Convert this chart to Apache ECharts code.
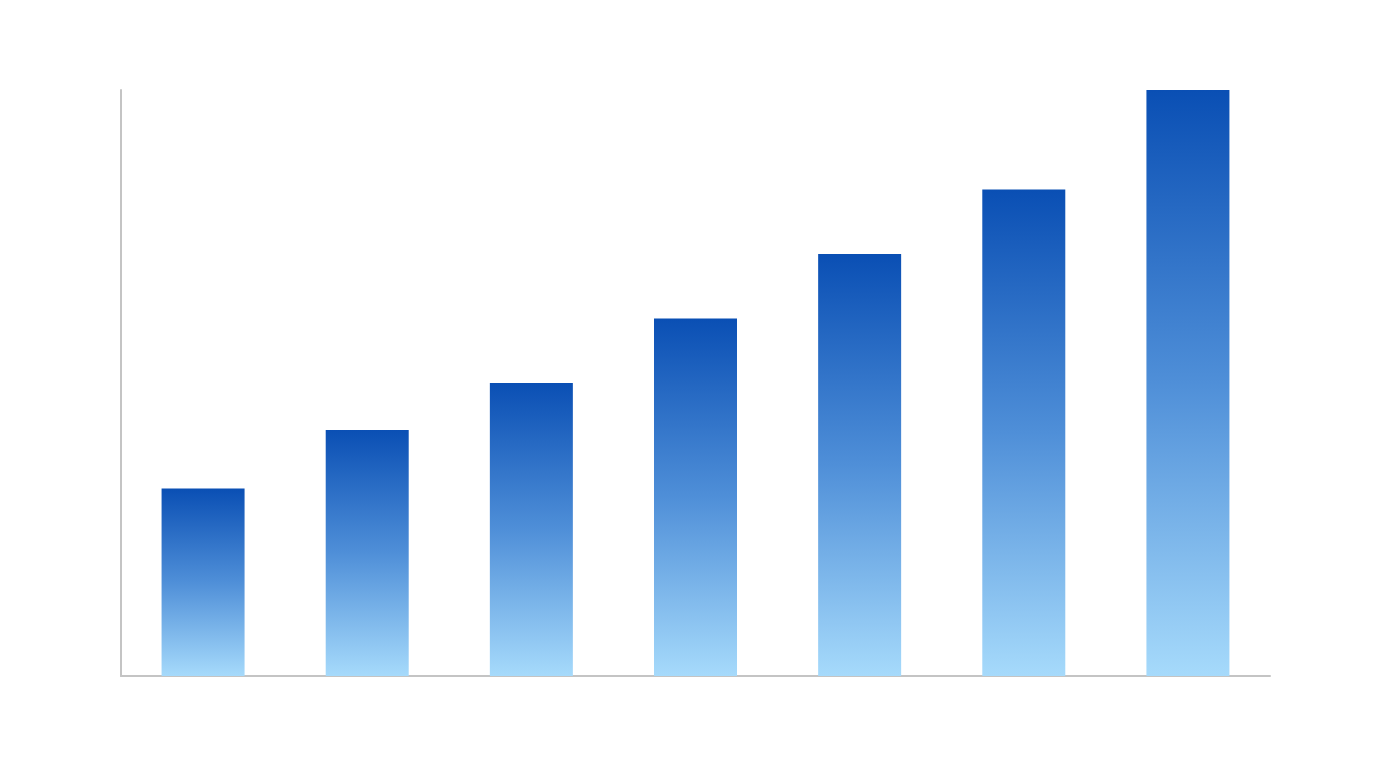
<!DOCTYPE html>
<html>
<head>
<meta charset="utf-8">
<script src="https://cdn.jsdelivr.net/npm/echarts@6/dist/echarts.min.js"></script>
<style>html,body{margin:0;padding:0;background:#fff;}#c{width:1376px;height:768px;}</style>
</head>
<body>
<div id="c"></div>
<script>
const categories = ['A', 'B', 'C', 'D', 'E', 'F', 'G'];
const values = [32, 42, 50, 61, 72, 83, 100];

const chart = echarts.init(document.getElementById('c'), null, {renderer: 'canvas'});
chart.setOption({
  animation: false,
  backgroundColor: '#ffffff',
  grid: {left: 121, right: 106, top: 90, bottom: 92, containLabel: false},
  xAxis: {
    type: 'category',
    data: categories,
    axisLine: {show: true, lineStyle: {color: '#c4c4c4', width: 2}},
    axisTick: {show: false},
    axisLabel: {show: false},
    splitLine: {show: false}
  },
  yAxis: {
    type: 'value',
    min: 0,
    max: 100,
    axisLine: {show: true, lineStyle: {color: '#c4c4c4', width: 2}},
    axisTick: {show: false},
    axisLabel: {show: false},
    splitLine: {show: false}
  },
  series: [{
    type: 'bar',
    data: values,
    barWidth: 83,
    itemStyle: {
      color: new echarts.graphic.LinearGradient(0, 0, 0, 1, [
        {offset: 0, color: '#0a4fb4'},
        {offset: 0.5, color: '#4f8fd8'},
        {offset: 1, color: '#a6dafb'}
      ])
    }
  }]
});
</script>
</body>
</html>
